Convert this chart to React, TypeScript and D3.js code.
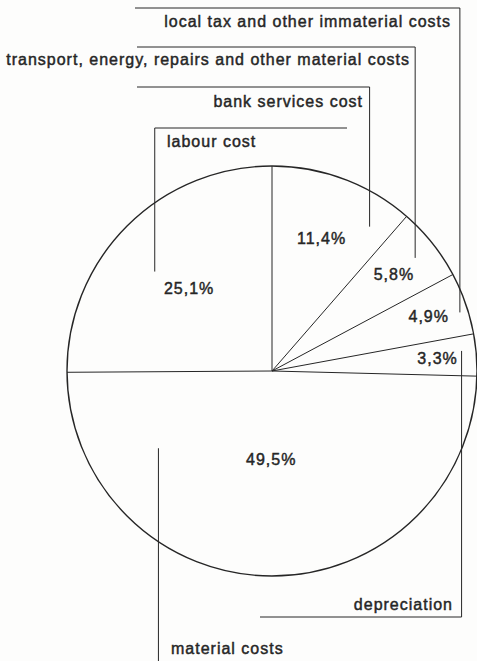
import React from 'react';
import * as d3 from 'd3';

// slices, clockwise from 12 o'clock
const categories = [
  'bank services cost',
  'transport, energy, repairs and other material costs',
  'local tax and other immaterial costs',
  'depreciation',
  'material costs',
  'labour cost',
];
const shares = [11.4, 5.8, 4.9, 3.3, 49.5, 25.1];

// where the percentage sits inside its slice (fraction of radius)
const labelRadius = [0.69, 0.76, 0.81, 0.81, 0.43, 0.57];
// leader anchor inside slice: fraction along the slice angle, fraction of radius
const anchorAlong = [0.83, 0.51, 0.61, 0.37, 0.81, 0.45];
const anchorRadius = [0.85, 0.89, 0.96, 0.93, 0.67, 0.75];

// leader layout: horizontal rule y, its free end x, label position / anchor
const leaderY = [87, 47, 8, 617, 661, 128];
const leaderEndX = [137, 137, 135, 260, null, 347];
const textX = [363, 410, 451, 453, 171, 167];
const textY = [107, 65, 27, 610, 654, 147];
const textAnchor = ['end', 'end', 'end', 'end', 'start', 'start'];

const W = 477;
const H = 661;
const cx = 272;
const cy = 371;
const R = 205;
const ink = '#262626';
const font = "'Liberation Sans', Arial, Helvetica, sans-serif";

const fmt = (v: number) => v.toFixed(1).replace('.', ',') + '%';

const App: React.FC = () => {
  const pie = d3.pie<number>().sort(null).value(d => d)(shares);
  const polar = (a: number, r: number): [number, number] => [Math.sin(a) * r, -Math.cos(a) * r];

  return (
    <div style={{ position: 'absolute', left: 0, top: 0 }}>
      <svg width={W} height={H} style={{ display: 'block', background: '#fdfdfc' }}>
        <g transform={`translate(${cx},${cy})`}>
          <circle r={R} fill="none" stroke={ink} strokeWidth={1.4} />
          {pie.map((p, i) => {
            const [x, y] = polar(p.startAngle, R);
            return <line key={'s' + i} x1={0} y1={0} x2={x} y2={y} stroke={ink} strokeWidth={1} />;
          })}
          {pie.map((p, i) => {
            const mid = (p.startAngle + p.endAngle) / 2;
            const [x, y] = polar(mid, R * labelRadius[i]);
            return (
              <text key={'p' + i} x={x} y={y} dy="0.35em" textAnchor="middle"
                fontFamily={font} fontSize={16} letterSpacing={1} fill={ink}
                stroke={ink} strokeWidth={0.45}>
                {fmt(shares[i])}
              </text>
            );
          })}
        </g>
        {pie.map((p, i) => {
          const a = p.startAngle + (p.endAngle - p.startAngle) * anchorAlong[i];
          const [dx, dy] = polar(a, R * anchorRadius[i]);
          const ax = cx + dx;
          const ay = cy + dy;
          const ly = leaderY[i];
          const end = leaderEndX[i];
          const d = end == null
            ? `M${ax},${ly}V${ay}`
            : `M${end},${ly}H${ax}V${ay}`;
          return (
            <g key={'l' + i}>
              <path d={d} fill="none" stroke={ink} strokeWidth={1} />
              <text x={textX[i]} y={textY[i]} textAnchor={textAnchor[i]}
                fontFamily={font} fontSize={16} letterSpacing={1} fill={ink}
                stroke={ink} strokeWidth={0.45}>
                {categories[i]}
              </text>
            </g>
          );
        })}
      </svg>
    </div>
  );
};

export default App;
